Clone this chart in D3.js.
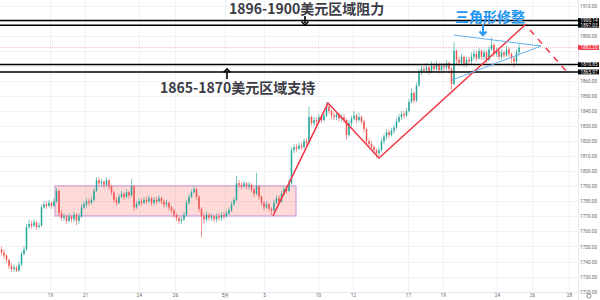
<!DOCTYPE html>
<html>
<head>
<meta charset="utf-8">
<script src="https://cdn.jsdelivr.net/npm/d3@7"></script>
<style>
body { margin: 0; background: #fff; }
svg { display: block; }
</style>
</head>
<body>
<svg id="viz"></svg>
<script>
var width = 600;
var height = 300;

// close / high / low per candle (open = previous close)
var closes = [
	1746,1744,1741,1737,1735,1736,1734,1738,1745,1748,
	1763,1765,1764,1766,1763,1764,1776,1778,1777,1779,
	1777,1780,1787,1772,1769,1770,1767,1770,1768,1771,
	1767,1770,1776,1778,1780,1779,1781,1787,1794,1792,
	1793,1791,1794,1790,1786,1781,1779,1783,1785,1783,
	1786,1784,1790,1776,1778,1780,1779,1781,1780,1782,
	1779,1781,1780,1782,1780,1778,1779,1776,1774,1771,
	1769,1767,1768,1771,1779,1783,1786,1788,1783,1775,
	1770,1768,1771,1769,1770,1768,1770,1769,1771,1770,
	1772,1774,1778,1781,1792,1791,1790,1792,1790,1791,
	1788,1785,1790,1783,1779,1776,1778,1775,1774,1779,
	1782,1780,1785,1788,1787,1792,1814,1816,1815,1817,
	1816,1820,1819,1836,1832,1834,1833,1836,1834,1837,
	1843,1840,1837,1836,1838,1835,1836,1834,1824,1832,
	1835,1837,1834,1836,1833,1828,1820,1818,1816,1814,
	1812,1814,1820,1823,1826,1824,1827,1829,1833,1836,
	1838,1837,1840,1846,1852,1847,1857,1866,1868,1867,
	1869,1866,1870,1868,1871,1867,1870,1869,1872,1868,
	1858,1880,1874,1872,1876,1871,1874,1873,1876,1878,
	1875,1880,1876,1879,1874,1881,1884,1878,1880,1876,
	1879,1877,1881,1878,1875,1873,1879,1882.2
];
var highs = [
	1750,1748,1745,1742,1739,1738,1737,1740,1747,1750,
	1765,1768,1767,1768,1767,1766,1778,1780,1780,1781,
	1780,1782,1789,1788,1774,1772,1771,1772,1771,1773,
	1772,1772,1778,1780,1782,1782,1783,1789,1796,1796,
	1795,1794,1796,1795,1791,1787,1783,1785,1787,1786,
	1788,1787,1795,1791,1780,1782,1782,1783,1783,1784,
	1783,1783,1783,1784,1783,1781,1781,1780,1777,1775,
	1772,1770,1770,1773,1781,1785,1788,1790,1789,1784,
	1776,1772,1773,1772,1772,1771,1772,1772,1773,1773,
	1774,1776,1780,1783,1797,1794,1793,1794,1793,1793,
	1792,1789,1799,1791,1784,1780,1780,1779,1776,1781,
	1784,1784,1787,1790,1790,1795,1816,1818,1818,1819,
	1819,1822,1822,1843,1837,1836,1836,1838,1838,1839,
	1846,1844,1841,1839,1840,1839,1838,1838,1835,1834,
	1837,1840,1838,1839,1837,1834,1829,1822,1820,1817,
	1815,1816,1822,1825,1828,1828,1829,1831,1835,1838,
	1840,1840,1842,1848,1855,1853,1859,1868,1870,1870,
	1872,1870,1873,1872,1873,1872,1872,1872,1874,1873,
	1869,1886,1881,1876,1878,1877,1876,1876,1879,1881,
	1880,1882,1881,1881,1880,1883,1889,1885,1882,1881,
	1881,1880,1883,1882,1879,1876,1881,1885
];
var lows = [
	1744,1742,1739,1735,1733,1733,1733,1733,1737,1744,
	1747,1762,1762,1763,1761,1762,1763,1775,1775,1776,
	1775,1776,1779,1770,1767,1767,1765,1766,1766,1766,
	1764,1765,1769,1775,1776,1777,1778,1780,1786,1790,
	1790,1789,1790,1788,1784,1779,1777,1778,1782,1781,
	1782,1782,1783,1774,1775,1777,1777,1778,1778,1779,
	1777,1777,1778,1779,1778,1776,1776,1774,1772,1769,
	1767,1765,1765,1767,1770,1778,1782,1785,1781,1773,
	1756,1765,1766,1767,1767,1766,1766,1767,1767,1768,
	1769,1771,1773,1777,1780,1789,1788,1789,1788,1788,
	1786,1783,1784,1781,1777,1774,1775,1773,1771,1773,
	1778,1778,1779,1784,1785,1786,1791,1812,1813,1814,
	1814,1815,1817,1818,1830,1830,1831,1832,1832,1833,
	1836,1838,1835,1834,1834,1833,1833,1832,1821,1823,
	1830,1834,1832,1833,1831,1826,1818,1816,1814,1811,
	1809,1810,1813,1818,1821,1822,1823,1825,1828,1832,
	1834,1835,1836,1839,1845,1845,1846,1856,1864,1865,
	1865,1864,1865,1866,1866,1865,1865,1866,1867,1865,
	1854,1857,1871,1870,1870,1869,1869,1871,1871,1874,
	1873,1874,1874,1874,1872,1873,1880,1876,1876,1874,
	1874,1875,1876,1876,1872,1869,1871,1877
];
var firstOpen = 1748;

var tickIdx = [19.4, 33.4, 55, 69.4, 89.4, 105, 126.6, 140.6, 162.6, 176.6, 198.2, 212.2, 227];
var tickLabels = ["19", "21", "24", "26", "5月", "5", "10", "12", "17", "19", "24", "26", "28"];
var priceTicks = [1720, 1730, 1740, 1750, 1760, 1770, 1780, 1790, 1800, 1810, 1820, 1830, 1840, 1850, 1860, 1870, 1880, 1890, 1900, 1910];

var levels = [1900.14, 1897.03, 1870.85, 1865.97];
var lastPrice = 1882.20;

// drawings (index, price)
var zoneIdx = [21.4, 117.8];
var zonePrice = [1770.3, 1790.3];
var zigzag = [[108.6, 1770.3], [130.6, 1845.3], [151, 1808.8], [209.8, 1897.8]];
var dashLine = [[211.4, 1893.9], [226.2, 1866.0]];
var triUpper = [[181, 1890.5], [215.8, 1883.2]];
var triLower = [[180.2, 1860.6], [215.8, 1883.2]];

var candles = closes.map((c, i) => ({
	i: i,
	o: i == 0 ? firstOpen : closes[i-1],
	h: highs[i],
	l: lows[i],
	c: c
}));

var plotW = 578, plotH = 292;

var svg = d3.select("#viz")
	.attr("width", width)
	.attr("height", height)
	.style("font-family", "Roboto, 'Noto Sans', sans-serif")

var x = d3.scaleLinear().domain([-0.6, 230.6]).range([0, plotW]);
var y = d3.scaleLinear().domain([1720, 1910]).range([291.65, 5.7]);

svg.append("defs").append("clipPath").attr("id", "plot")
	.append("rect").attr("width", plotW).attr("height", plotH);

// grid
var grid = svg.append("g").attr("stroke", "#f0f2f6").attr("stroke-width", 1);
grid.selectAll(".hg").data(priceTicks).join("line")
	.attr("x1", 0).attr("x2", plotW)
	.attr("y1", d => Math.round(y(d)) + 0.5).attr("y2", d => Math.round(y(d)) + 0.5);
grid.selectAll(".vg").data(tickIdx).join("line")
	.attr("y1", 0).attr("y2", plotH)
	.attr("x1", d => Math.round(x(d)) + 0.5).attr("x2", d => Math.round(x(d)) + 0.5);

var plot = svg.append("g").attr("clip-path", "url(#plot)");

// zone box
plot.append("rect")
	.attr("x", x(zoneIdx[0]))
	.attr("y", y(zonePrice[1]))
	.attr("width", x(zoneIdx[1]) - x(zoneIdx[0]))
	.attr("height", y(zonePrice[0]) - y(zonePrice[1]))
	.attr("fill", "rgba(244, 67, 54, 0.2)")
	.attr("stroke", "#c893d9")
	.attr("stroke-width", 1);

// last price line
plot.append("line")
	.attr("x1", 0).attr("x2", plotW)
	.attr("y1", y(lastPrice)).attr("y2", y(lastPrice))
	.attr("stroke", "rgba(242, 54, 69, 0.35)")
	.attr("stroke-dasharray", "1,1");

// candles
var cw = 1.5;
var cg = plot.append("g");
cg.selectAll(".wick").data(candles).join("line")
	.attr("x1", d => x(d.i)).attr("x2", d => x(d.i))
	.attr("y1", d => y(d.h)).attr("y2", d => y(d.l))
	.attr("stroke", d => d.c >= d.o ? "#26a69a" : "#ef5350")
	.attr("stroke-width", 0.6);
cg.selectAll(".body").data(candles).join("rect")
	.attr("x", d => x(d.i) - cw/2)
	.attr("width", cw)
	.attr("y", d => y(Math.max(d.o, d.c)))
	.attr("height", d => Math.max(0.6, Math.abs(y(d.o) - y(d.c))))
	.attr("fill", d => d.c >= d.o ? "#26a69a" : "#ef5350");

// support / resistance lines
plot.selectAll(".lvl").data(levels).join("line")
	.attr("x1", 0).attr("x2", plotW)
	.attr("y1", d => y(d)).attr("y2", d => y(d))
	.attr("stroke", "#000").attr("stroke-width", 1.5);

var line = d3.line().x(d => x(d[0])).y(d => y(d[1]));

plot.append("path").attr("d", line(zigzag))
	.attr("fill", "none").attr("stroke", "#f23645").attr("stroke-width", 1.5);
plot.append("path").attr("d", line(dashLine))
	.attr("fill", "none").attr("stroke", "#f23645").attr("stroke-width", 1.5)
	.attr("stroke-dasharray", "6,6");
[triUpper, triLower].forEach(t => {
	plot.append("path").attr("d", line(t))
		.attr("fill", "none").attr("stroke", "#64b0f0").attr("stroke-width", 1);
});

// annotations
function arrow(px, y0, y1, color, w) {
	var dir = y1 > y0 ? 1 : -1;
	svg.append("line").attr("x1", px).attr("x2", px).attr("y1", y0).attr("y2", y1 - dir*2)
		.attr("stroke", color).attr("stroke-width", w);
	svg.append("path")
		.attr("d", `M${px-3.5},${y1 - dir*3.5} L${px},${y1} L${px+3.5},${y1 - dir*3.5}`)
		.attr("fill", "none").attr("stroke", color).attr("stroke-width", w);
}

var cjk = "'Noto Sans CJK SC', 'Noto Sans', sans-serif";
svg.append("text").attr("x", 229).attr("y", 13.5)
	.attr("font-family", cjk).attr("font-weight", "bold").attr("font-size", 14)
	.attr("fill", "#3c3c46").text("1896-1900美元区域阻力");
arrow(305, 16, 25, "#000", 1.6);

svg.append("text").attr("x", 160).attr("y", 93)
	.attr("font-family", cjk).attr("font-weight", "bold").attr("font-size", 14)
	.attr("fill", "#3c3c46").text("1865-1870美元区域支持");
arrow(227, 79, 69, "#000", 1.6);

svg.append("text").attr("x", 455).attr("y", 21.5)
	.attr("font-family", cjk).attr("font-weight", "bold").attr("font-size", 14)
	.attr("fill", "#2196f3").text("三角形修整");
arrow(483, 25, 35, "#2196f3", 2);

// axes
svg.append("line").attr("x1", plotW + 0.5).attr("x2", plotW + 0.5).attr("y1", 0).attr("y2", height)
	.attr("stroke", "#e6e8ee");
svg.append("line").attr("x1", 0).attr("x2", plotW).attr("y1", plotH + 0.5).attr("y2", plotH + 0.5)
	.attr("stroke", "#e6e8ee");

var tags = levels.map(v => ({v: v, bg: "#000"})).concat([{v: lastPrice, bg: "#f23645"}]);

// axis labels hidden under a price tag are skipped
var shownTicks = priceTicks.filter(p => tags.every(t => Math.abs(y(p) - y(t.v)) > 4));
var yAxis = d3.axisRight(y).tickValues(shownTicks).tickFormat(d3.format(".2f")).tickSize(0).tickPadding(2);
svg.append("g").attr("transform", `translate(${plotW},0)`).call(yAxis)
	.call(g => g.select(".domain").remove())
	.selectAll("text").attr("font-size", 4.7).attr("fill", "#666").attr("font-family", "Roboto, sans-serif");

var xAxis = d3.axisBottom(x).tickValues(tickIdx).tickFormat((d, i) => tickLabels[i]).tickSize(0).tickPadding(2);
svg.append("g").attr("transform", `translate(0,${plotH})`).call(xAxis)
	.call(g => g.select(".domain").remove())
	.selectAll("text").attr("font-size", 4.7).attr("fill", "#666").attr("font-family", "Roboto, sans-serif");

// price tags
var tg = svg.selectAll(".tag").data(tags).join("g")
	.attr("transform", d => `translate(${plotW},${y(d.v)})`);
tg.append("rect").attr("x", 0).attr("y", -2.4).attr("width", 21).attr("height", 4.8).attr("fill", d => d.bg);
tg.append("text").attr("x", 2.5).attr("y", 1.6).attr("font-size", 4.7).attr("fill", "#fff")
	.attr("font-family", "Roboto, sans-serif").text(d => d.v.toFixed(2));

// settings gear
svg.append("circle").attr("cx", 589).attr("cy", 296).attr("r", 2)
	.attr("fill", "none").attr("stroke", "#777").attr("stroke-width", 0.8);
</script>
</body>
</html>
